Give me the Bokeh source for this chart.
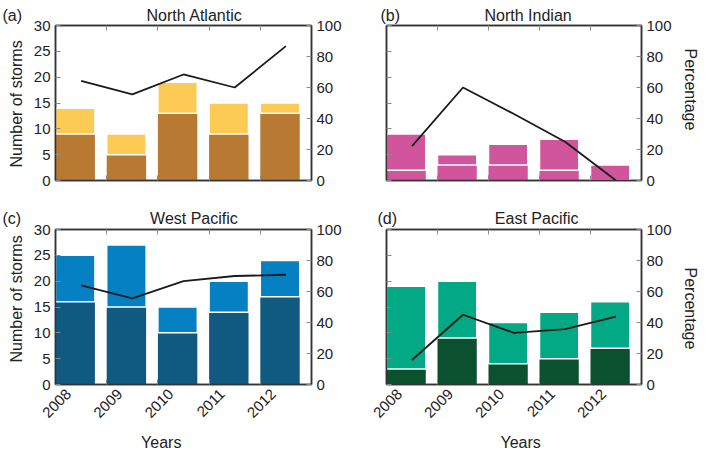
import math
from bokeh.plotting import figure
from bokeh.models import (Range1d, LinearAxis, FixedTicker, Title,
                          CustomJSTickFormatter)
from bokeh.layouts import row, column
from bokeh.embed import file_html
from bokeh.resources import INLINE

# ---- data ----
years = [2008, 2009, 2010, 2011, 2012]

na_dark = [9, 5, 13, 9, 13]
na_total = [14, 9, 19, 15, 15]
na_pct = [64.3, 55.6, 68.4, 60.0, 86.7]

ni_dark = [2, 3, 3, 2, 0]
ni_total = [9, 5, 7, 8, 3]
ni_pct = [22.2, 60.0, 42.9, 25.0, 0.0]

wp_dark = [16, 15, 10, 14, 17]
wp_total = [25, 27, 15, 20, 24]
wp_pct = [64.0, 55.6, 66.7, 70.0, 70.8]

ep_dark = [3, 9, 4, 5, 7]
ep_total = [19, 20, 12, 14, 16]
ep_pct = [15.8, 45.0, 33.3, 35.7, 43.8]

count_ticks = [0, 5, 10, 15, 20, 25, 30]
pct_ticks = [0, 20, 40, 60, 80, 100]

FONT = "Liberation Sans"
TXT = "#222222"
FRAME = "#333333"
TICK = "#8a8a8a"
BAR_W = 0.77
LEFT_PAD = 0.385
LINE_SHIFT = 0.115
LABEL_SHIFT = -0.13
BOUNDS = [y + 0.615 for y in years[:-1]]
NB = "\u00a0"


def style_axis(ax, ticks, show_labels, minor=None):
    ax.ticker = FixedTicker(ticks=ticks, minor_ticks=minor or [])
    ax.axis_line_color = FRAME
    ax.axis_line_width = 1.5
    ax.major_tick_in = 5
    ax.major_tick_out = 0
    ax.major_tick_line_color = TICK
    ax.major_tick_line_width = 1
    ax.minor_tick_in = 0
    ax.minor_tick_out = 0
    ax.major_label_text_font = FONT
    ax.major_label_text_font_size = "15px"
    if show_labels:
        ax.major_label_text_color = TXT
        ax.major_label_standoff = 5
    else:
        ax.major_label_text_color = None
        ax.major_label_standoff = 0


def add_title(p, text, loc, align, offset, standoff):
    p.add_layout(Title(text=text, align=align, offset=offset,
                       standoff=standoff, text_font=FONT,
                       text_font_size="16px", text_font_style="normal",
                       text_color=TXT), loc)


def panel(dark, total, pct, dark_c, light_c, width, height, borders,
          left_labels, bottom_label):
    bl, br, bt, bb = borders
    p = figure(width=width, height=height, output_backend="svg",
               toolbar_location=None,
               x_range=Range1d(years[0] - LEFT_PAD, years[-1] + 1 - LEFT_PAD),
               y_range=Range1d(0, 30),
               min_border_left=bl, min_border_right=br,
               min_border_top=bt, min_border_bottom=bb)
    p.extra_y_ranges = {"pct": Range1d(0, 100)}
    p.grid.visible = False
    p.outline_line_color = FRAME
    p.outline_line_width = 1.5

    p.vbar(x=years, width=BAR_W, bottom=0, top=dark,
           fill_color=dark_c, line_color=None)
    p.vbar(x=years, width=BAR_W, bottom=dark, top=total,
           fill_color=light_c, line_color="white", line_width=1.5)
    p.line(x=[y + LINE_SHIFT for y in years], y=pct, y_range_name="pct",
           line_color="#1a1a1a", line_width=1.8)

    style_axis(p.yaxis[0], count_ticks, left_labels)
    bax = p.xaxis[0]
    if bottom_label is not None:
        style_axis(bax, [y + LABEL_SHIFT for y in years], True, minor=BOUNDS)
        bax.formatter = CustomJSTickFormatter(
            code="return Math.round(tick).toFixed(0)")
        bax.major_label_orientation = math.pi / 4
        bax.major_label_standoff = 7
        bax.axis_label = bottom_label
        bax.axis_label_text_font = FONT
        bax.axis_label_text_font_size = "16px"
        bax.axis_label_text_font_style = "normal"
        bax.axis_label_text_color = TXT
        bax.axis_label_standoff = 9
    else:
        style_axis(bax, years, False, minor=BOUNDS)
    bax.major_tick_in = 0
    bax.minor_tick_in = 5
    bax.minor_tick_line_color = TICK

    rax = LinearAxis(y_range_name="pct")
    style_axis(rax, pct_ticks, True)
    p.add_layout(rax, "right")

    tax = LinearAxis()
    style_axis(tax, BOUNDS, False)
    p.add_layout(tax, "above")
    return p


pa = panel(na_dark, na_total, na_pct, "#b87a33", "#fdcb54", 360, 191,
           (54, 49, 25, 11), True, None)
add_title(pa, "(a)" + NB * 28 + "North Atlantic", "above", "left", -53, 4)
add_title(pa, "Number of storms", "left", "left", 13, 11)

pb = panel(ni_dark, ni_total, ni_pct, "#d1559c", "#d1559c", 349, 191,
           (26, 66, 25, 11), False, None)
add_title(pb, "(b)" + NB * 19 + "North Indian", "above", "left", -6, 4)
add_title(pb, "Percentage", "right", "left", 23, 15.5)

pc = panel(wp_dark, wp_total, wp_pct, "#105a82", "#0480c3", 360, 263,
           (54, 49, 38, 70), True, "Years" + NB * 10)
add_title(pc, "(c)" + NB * 29 + "West Pacific", "above", "left", -53, 5)
add_title(pc, "Number of storms", "left", "left", 22, 11)

pd_ = panel(ep_dark, ep_total, ep_pct, "#0b5130", "#03a885", 349, 263,
            (26, 66, 38, 70), False, NB * 3 + "Years")
add_title(pd_, "(d)" + NB * 22 + "East Pacific", "above", "left", -9, 5)
add_title(pd_, "Percentage", "right", "left", 38, 15.5)

layout = column(row(pa, pb), row(pc, pd_))
open("out.html", "w").write(file_html(layout, INLINE))
